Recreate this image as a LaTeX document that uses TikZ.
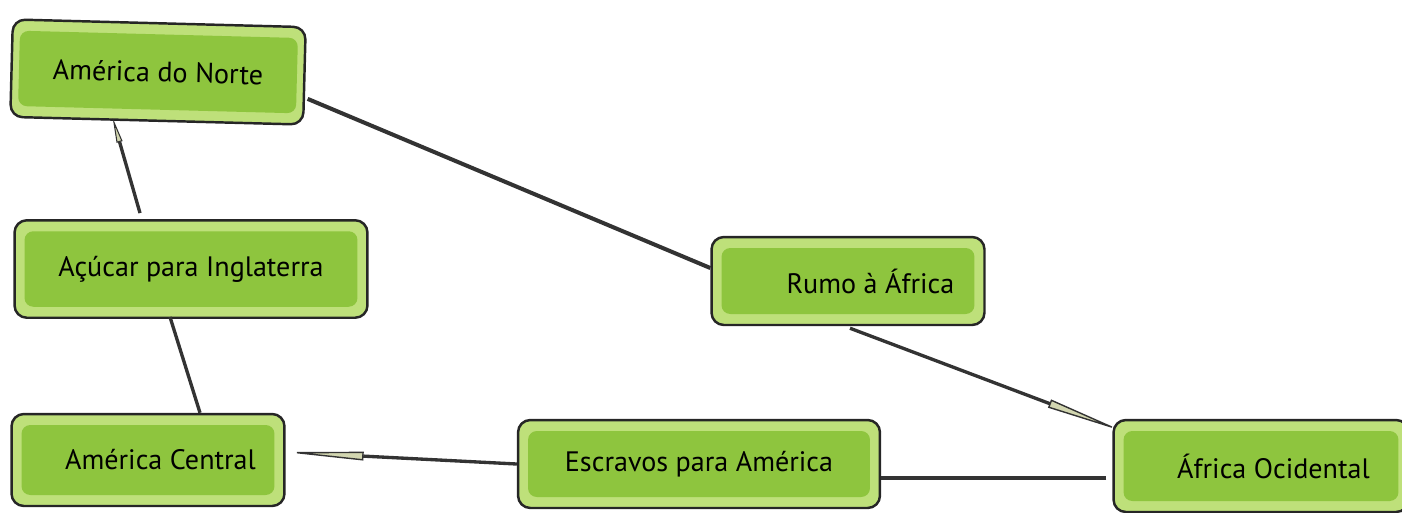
\documentclass[tikz,border=0pt]{standalone}
\usepackage{fontspec}
\setmainfont{PT Sans}
\usetikzlibrary{arrows.meta,calc}
\definecolor{outergreen}{HTML}{BEE07A}
\definecolor{innergreen}{HTML}{8EC53E}
\definecolor{wedgefill}{HTML}{D2D6B0}
\tikzset{
  region/.style={draw=black!85,line width=1.4pt,fill=outergreen,rounded corners=7pt,
    minimum height=1.8cm,font=\fontsize{16}{19}\selectfont,
    path picture={\fill[innergreen,rounded corners=5pt]
      ($(path picture bounding box.north west)+(0.2cm,-0.22cm)$) rectangle
      ($(path picture bounding box.south east)+(-0.2cm,0.22cm)$);}},
  route/.style={draw=black!80,line width=1.9pt},
  wedge/.style={route,-{Triangle[length=1.6cm,width=0.17cm,fill=wedgefill,line width=0.8pt]}},
  smallwedge/.style={route,-{Triangle[length=0.5cm,width=0.12cm,fill=wedgefill,line width=0.6pt]}}
}
\begin{document}
\begin{tikzpicture}[x=0.02cm,y=-0.02cm]
  \useasboundingbox (0,0) rectangle (1402,512);
  \node[region,minimum width=5.86cm,minimum height=1.95cm,rotate=-1.5] (norte) at (158,72) {América do Norte};
  \node[region,minimum width=7.06cm,minimum height=1.95cm] (acucar) at (191,269) {Açúcar para Inglaterra};
  \node[region,minimum width=5.46cm,minimum height=1.84cm] (central) at (148,460) {\hspace{0.5cm}América Central};
  \node[region,minimum width=5.46cm,minimum height=1.76cm] (rumo) at (848,281) {\hspace{0.9cm}Rumo à África};
  \node[region,minimum width=7.24cm,minimum height=1.76cm] (escravos) at (699,464) {Escravos para América};
  \node[region,minimum width=5.9cm,minimum height=1.84cm] (ocidental) at (1261,466) {\hspace{0.5cm}África Ocidental};
  \draw[smallwedge] ($(acucar.north)+(-51,-6)$) -- ($(norte.south)+(-44,-4)$);
  \draw[route] ($(acucar.south)+(-21,-2)$) -- ($(central.north)+(52,0)$);
  \draw[route,line width=2.3pt] ($(norte.east)+(2,23)$) -- ($(rumo.west)+(0,-13)$);
  \draw[wedge] ($(rumo.south)+(2,2)$) -- ($(ocidental.north west)+(12,13)$);
  \draw[route,line width=2.3pt] ($(ocidental.west)+(-6,12)$) -- ($(escravos.east)+(0,14)$);
  \draw[wedge] (escravos.west) -- ($(central.east)+(-2,-8)$);
\end{tikzpicture}
\end{document}
